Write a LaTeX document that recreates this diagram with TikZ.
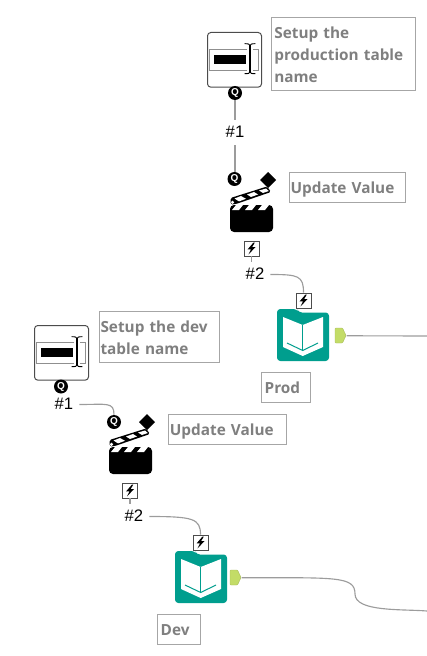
\documentclass[tikz,border=0pt]{standalone}
\usepackage{fontspec}
\setmainfont{Liberation Sans}
\newfontfamily\notefont{Open Sans}
\definecolor{tealbook}{HTML}{009E8E}
\definecolor{outgreen}{HTML}{C3DC67}
\definecolor{wiregrey}{HTML}{9C9C9C}
\definecolor{boxgrey}{HTML}{A6A6A6}
\definecolor{notegrey}{HTML}{7F7F7F}
\definecolor{inputgrey}{HTML}{8F8F8F}
\newcommand\nl[2]{\hspace*{#1}\raisebox{0pt}[9.8pt][0.6pt]{#2}}
\newcommand\hs[1]{\raisebox{0.75pt}{#1}}
\tikzset{
  x=0.75pt,y=-0.75pt,
  ghost/.style={rectangle,inner sep=0pt,anchor=north west},
  note/.style={draw=boxgrey,line width=0.8pt,rectangle,anchor=north west,inner sep=0pt,
    text=notegrey,align=left,font=\notefont\bfseries\fontsize{11.5pt}{16.5pt}\selectfont},
  portq/.style={circle,fill=black,minimum size=10.5pt,inner sep=0pt,text=white,
    font=\bfseries\fontsize{7.5pt}{8pt}\selectfont},
  portb/.style={draw=black!70,fill=white,line width=0.6pt,rectangle,minimum size=11.2pt,inner sep=0pt},
  hash/.style={inner sep=0pt,minimum width=22.5pt,minimum height=18.75pt,font=\fontsize{12.5pt}{14pt}\selectfont},
  wire/.style={draw=wiregrey,line width=0.85pt},
}
\newcommand\inputicon[3]{%
  \begin{scope}[shift={(#2,#3)}]
    \node[ghost,draw=black!70,fill=white,line width=0.75pt,rounded corners=2.5pt,minimum width=40.5pt,minimum height=41pt] (#1) at (0,0) {};
    \draw[inputgrey,line width=0.7pt] (40,17.7) -- (2.7,17.7) -- (2.7,38.7) -- (40,38.7);
    \draw[inputgrey,line width=0.7pt] (46,17.7) -- (51.7,17.7) -- (51.7,38.7) -- (46,38.7);
    \fill[black] (6.7,22.7) rectangle (38.7,31.7);
    \draw[black,line width=0.8pt] (43,13) -- (43,40.5);
    \draw[black,line width=0.7pt] (37.7,11.7) .. controls (41,11.7) and (43,12) .. (43,13.5) .. controls (43,12) and (45,11.7) .. (48.3,11.7);
    \draw[black,line width=0.7pt] (37.7,41.7) .. controls (41,41.7) and (43,41.4) .. (43,40) .. controls (43,41.4) and (45,41.7) .. (48.3,41.7);
  \end{scope}}
\newcommand\bolt[3]{%
  \node[portb] (#1) at (#2,#3) {};
  \begin{scope}[shift={(#1.center)}]
    \fill[black] (2,-6) -- (-3.8,0.8) -- (-0.5,0.8) -- (-3,6) -- (4,-1.5) -- (0.7,-1.5) -- (3.3,-6) -- cycle;
  \end{scope}}
\newcommand\clapper[3]{%
  \begin{scope}[shift={(#2,#3)}]
    \node[ghost,minimum width=32.25pt,minimum height=20.25pt] (#1) at (0,0) {};
    \fill[black,rounded corners=3pt] (0,0) -- (43,0) -- (43,27) -- (0,27) -- cycle;
    \fill[white] (6,0) -- (13,0) -- (9,5) -- (2,5) -- cycle;
    \fill[white] (19,0) -- (26,0) -- (22,5) -- (15,5) -- cycle;
    \fill[white] (32,0) -- (39,0) -- (35,5) -- (28,5) -- cycle;
    \fill[black,rounded corners=1.2pt] (0.5,-7) -- (37,-18.5) -- (41,-13) -- (6,-1) -- (0.7,-0.5) -- cycle;
    \fill[white] (4.5,-6.5) -- (11,-9) -- (16,-6.2) -- (9,-3.6) -- cycle;
    \fill[white] (17,-10.5) -- (24,-13) -- (28,-10.5) -- (21,-8) -- cycle;
    \fill[white] (29,-14.5) -- (36,-16.5) -- (38.8,-14) -- (33,-12) -- cycle;
    \fill[white] (2.5,-2.7) circle (1.7);
  \end{scope}}
\newcommand\diam[3]{%
  \node[ghost,anchor=center,minimum size=12pt] (#1) at (#2,#3) {};
  \fill[black] (#1.center) ++(-8,0) -- ++(8,-8) -- ++(8,8) -- ++(-8,8) -- cycle;}
\newcommand\bookicon[3]{%
  \begin{scope}[shift={(#2,#3)}]
    \node[ghost,minimum width=39pt,minimum height=39pt] (#1) at (0,0) {};
    \fill[tealbook,rounded corners=2.5pt] (0,0) -- (20,0) -- (21.5,3.5) -- (52,3.5) -- (52,52) -- (0,52) -- cycle;
    \fill[white] (6,8) -- (25.7,16) -- (46,8) -- (46,38) -- (25.7,47) -- (6,38) -- cycle;
    \draw[tealbook,line width=0.75pt] (25.7,16) -- (25.7,41.5);
    \draw[tealbook,line width=0.75pt] (10,34) -- (25.7,41.5) -- (41,34);
  \end{scope}}
\newcommand\outport[3]{%
  \begin{scope}[shift={(#2,#3)}]
    \node[ghost,minimum width=8.25pt,minimum height=11.25pt] (#1) at (0,0) {};
    \fill[outgreen,draw=outgreen!85!black,line width=0.3pt,rounded corners=0.6pt] (0,0) -- (7.5,0) -- (11,7.5) -- (7.5,15) -- (0,15) -- cycle;
  \end{scope}}
\begin{document}
\begin{tikzpicture}
\useasboundingbox (0,0) rectangle (427,656);
% Production branch
\inputicon{inA}{207}{32}
\node[note,minimum width=108pt,minimum height=54.75pt,text width=105pt] (noteA) at (271,17) {\nl{0.6pt}{Setup the}\\\nl{0.6pt}{production table}\\\nl{0.6pt}{name}};
\node[portq] (qA) at (235,93) {Q};
\node[hash] (hA) at (235,132.5) {\hs{\#1}};
\node[portq] (qB) at (234.5,179) {Q};
\diam{dB}{268}{180}
\clapper{clB}{230}{205}
\node[note,minimum width=87pt,minimum height=22.5pt,text width=84pt] (noteB) at (289,172) {\nl{-0.75pt}{Update Value}};
\bolt{bB}{251.5}{248.5}
\node[hash] (hB) at (255,274.5) {\hs{\#2}};
\bolt{bC}{303.5}{300.5}
\bookicon{bkC}{277}{309}
\outport{oC}{335}{328}
\coordinate (endC) at (427,336);
\node[note,minimum width=36.75pt,minimum height=22.5pt,text width=33.5pt] (noteC) at (261,372) {\nl{0.75pt}{Prod}};
% Dev branch
\inputicon{inD}{34}{325}
\node[note,minimum width=90pt,minimum height=38.25pt,text width=87pt] (noteD) at (99,311) {\nl{-0.75pt}{Setup the dev}\\\nl{-0.75pt}{table name}};
\node[portq] (qD) at (61,386.5) {Q};
\node[hash] (hD) at (64,404.5) {\hs{\#1}};
\node[portq] (qE) at (114,422) {Q};
\diam{dE}{147}{422}
\clapper{clE}{109}{447}
\node[note,minimum width=88.5pt,minimum height=22.5pt,text width=85pt] (noteE) at (168,414) {\nl{-0.75pt}{Update Value}};
\bolt{bE}{130}{490.5}
\node[hash] (hE) at (134,516.5) {\hs{\#2}};
\bolt{bF}{200.5}{542.5}
\bookicon{bkF}{175}{551}
\outport{oF}{230}{570}
\coordinate (endF) at (427,611);
\node[note,minimum width=32.25pt,minimum height=22.5pt,text width=29pt] (noteF) at (157,614) {\nl{0.75pt}{Dev}};
% Connectors
\draw[wire] (qA.south) -- (hA.north -| qA.south);
\draw[wire] (hA.south) -- (qB.north -| hA.south);
\draw[wire] (bB.south) -- (hB.north -| bB.south);
\draw[wire] (hB.east) .. controls +(28,0) and +(0,-17) .. (bC.north);
\draw[wire] (oC.east) -- (endC);
\draw[wire] (hD.east) .. controls +(28,0) and +(0,-13) .. (qE.north);
\draw[wire] (bE.south) -- (hE.north -| bE.south);
\draw[wire] (hE.east) .. controls +(44,0) and +(0,-16) .. (bF.north);
\draw[wire] (oF.east) .. controls +(95,0) and +(0,-18) .. (355,594) .. controls +(0,18) and +(-25,-2) .. (endF);
\end{tikzpicture}
\end{document}
